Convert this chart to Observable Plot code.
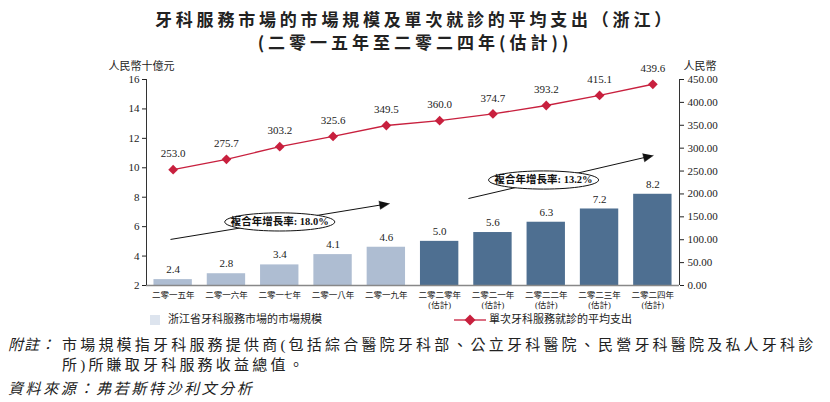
<!DOCTYPE html>
<html>
<head>
<meta charset="utf-8">
<script src="https://cdn.jsdelivr.net/npm/d3@7"></script>
<script src="https://cdn.jsdelivr.net/npm/@observablehq/plot@0.6"></script>
<style>
html, body { margin: 0; padding: 0; background: #fff; }
#wrap { position: relative; width: 830px; height: 402px; overflow: hidden; font-family: "Liberation Serif", "Noto Sans CJK TC", serif; color: #222; }
.title { position: absolute; left: 0; width: 830px; text-align: center; font-family: "Noto Sans CJK TC", sans-serif; font-size: 17px; font-weight: bold; letter-spacing: 3.8px; white-space: nowrap; line-height: 1; }
#chart { position: absolute; left: 0; top: 48px; }
.leg { position: absolute; font-family: "Liberation Serif", "Noto Sans CJK TC", serif; font-size: 11px; line-height: 1; white-space: nowrap; color: #222; }
.note { position: absolute; font-family: "Liberation Serif", "Noto Sans CJK TC", serif; font-size: 15px; line-height: 1; white-space: nowrap; color: #222; }
</style>
</head>
<body>
<div id="wrap">
  <div class="title" style="top:10px">牙科服務市場的市場規模及單次就診的平均支出（浙江）</div>
  <div class="title" style="top:33px;letter-spacing:4px">(二零一五年至二零二四年(估計))</div>
  <div id="chart"></div>
  <div class="leg" style="left:150px;top:315px;width:10px;height:10px;background:#dde4ee"></div>
  <div class="leg" id="leg1" style="left:168px;top:314px"></div>
  <svg class="leg" style="left:454px;top:314px" width="32" height="12">
    <line x1="0" y1="6" x2="32" y2="6" stroke="#c8203e" stroke-width="1.3"></line>
    <path d="M16,0.5L21.5,6L16,11.5L10.5,6Z" fill="#c8203e"></path>
  </svg>
  <div class="leg" id="leg2" style="left:489px;top:314px"></div>
  <div class="note" style="left:8px;top:338px;font-style:italic;letter-spacing:1px">附註：</div>
  <div class="note" id="note1" style="left:62px;top:338px;letter-spacing:3.2px"></div>
  <div class="note" id="note2" style="left:62px;top:358px;letter-spacing:3.2px"></div>
  <div class="note" id="source" style="left:8px;top:382px;font-style:italic;letter-spacing:2.6px"></div>
</div>
<script>
// ---- data ----
const years = ["二零一五年", "二零一六年", "二零一七年", "二零一八年", "二零一九年",
               "二零二零年", "二零二一年", "二零二二年", "二零二三年", "二零二四年"];
const estimated = [false, false, false, false, false, true, true, true, true, true];
const marketSize = [2.4, 2.8, 3.4, 4.1, 4.6, 5.0, 5.6, 6.3, 7.2, 8.2];          // 人民幣十億元
const avgSpend = [253.0, 275.7, 303.2, 325.6, 349.5, 360.0, 374.7, 393.2, 415.1, 439.6]; // 人民幣
const leftTicks = [2, 4, 6, 8, 10, 12, 14, 16];
const rightTicks = [0, 50, 100, 150, 200, 250, 300, 350, 400, 450];
const estLabel = "(估計)";
const seriesNames = ["浙江省牙科服務市場的市場規模", "單次牙科服務就診的平均支出"];
const cagrLabels = ["複合年增長率: 18.0%", "複合年增長率: 13.2%"];
// annotation anchors in data units (x = year index, y = left axis)
const cagrArrowFrom = [[-0.05, 5.13], [5.54, 7.91]];
const cagrArrowTo = [[4.06, 7.57], [9.01, 10.84]];
const cagrBadgeAt = [[2.0, 6.32], [6.95, 9.17]];
const noteLines = ["市場規模指牙科服務提供商(包括綜合醫院牙科部、公立牙科醫院、民營牙科醫院及私人牙科診", "所)所賺取牙科服務收益總值。"];
const sourceText = "資料來源：弗若斯特沙利文分析";

document.getElementById("leg1").textContent = seriesNames[0];
document.getElementById("leg2").textContent = seriesNames[1];
document.getElementById("note1").textContent = noteLines[0];
document.getElementById("note2").textContent = noteLines[1];
document.getElementById("source").textContent = sourceText;

// ---- layout ----
const W = 830, H = 264, ML = 146, MR = 151, MT = 31, MB = 27;
const xDom = [-0.5, 9.5], yDom = [2, 16], rDom = [0, 450];
const toLeft = v => yDom[0] + (v - rDom[0]) / (rDom[1] - rDom[0]) * (yDom[1] - yDom[0]);
const fromLeft = v => rDom[0] + (v - yDom[0]) / (yDom[1] - yDom[0]) * (rDom[1] - rDom[0]);

const light = "#aebdd2", dark = "#4e6f91", red = "#c8203e", ink = "#222";

const rows = years.map((y, i) => ({i, year: y, est: estimated[i], size: marketSize[i], spend: avgSpend[i]}));

const notes = cagrLabels.map((label, k) => ({
  label,
  x1: cagrArrowFrom[k][0], y1: cagrArrowFrom[k][1],
  x2: cagrArrowTo[k][0], y2: cagrArrowTo[k][1],
  cx: cagrBadgeAt[k][0], cy: cagrBadgeAt[k][1]
}));

// arrowheads: filled triangles, built in pixel space then mapped back to data units
const kx = (W - ML - MR) / (xDom[1] - xDom[0]);
const ky = (H - MT - MB) / (yDom[1] - yDom[0]);
const headL = 10, headW = 4.2;
const heads = [];
const shafts = [];
notes.forEach((n, k) => {
  const px = (n.x2 - n.x1) * kx, py = -(n.y2 - n.y1) * ky;
  const len = Math.hypot(px, py), ux = px / len, uy = py / len;
  const pts = [[0, 0], [-headL * ux - headW * uy, -headL * uy + headW * ux], [-headL * ux + headW * uy, -headL * uy - headW * ux]];
  pts.forEach(([dx, dy]) => heads.push({k, x: n.x2 + dx / kx, y: n.y2 - dy / ky}));
  shafts.push({x1: n.x1, y1: n.y1, x2: n.x2 - (headL - 1) * ux / kx, y2: n.y2 + (headL - 1) * uy / ky});
});

const ellipse = {
  draw(ctx, size) {
    const rx = Math.sqrt(size / Math.PI), ry = rx * 0.165, c = 0.5523;
    ctx.moveTo(rx, 0);
    ctx.bezierCurveTo(rx, c * ry, c * rx, ry, 0, ry);
    ctx.bezierCurveTo(-c * rx, ry, -rx, c * ry, -rx, 0);
    ctx.bezierCurveTo(-rx, -c * ry, -c * rx, -ry, 0, -ry);
    ctx.bezierCurveTo(c * rx, -ry, rx, -c * ry, rx, 0);
    ctx.closePath();
  }
};

const chart = Plot.plot({
  width: W, height: H,
  marginLeft: ML, marginRight: MR, marginTop: MT, marginBottom: MB,
  style: {fontFamily: '"Liberation Serif", "Noto Sans CJK TC", serif', fontSize: "11px", color: ink, background: "transparent"},
  x: {type: "linear", domain: xDom, axis: null},
  y: {domain: yDom, axis: null},
  marks: [
    Plot.rect(rows.filter(d => !d.est), {x1: d => d.i - 0.36, x2: d => d.i + 0.36, y1: d => yDom[0], y2: "size", fill: light}),
    Plot.rect(rows.filter(d => d.est), {x1: d => d.i - 0.36, x2: d => d.i + 0.36, y1: d => yDom[0], y2: "size", fill: dark}),
    Plot.ruleY([yDom[0]], {stroke: "#888", strokeWidth: 1.5}),
    Plot.ruleX([xDom[0]], {stroke: "#333"}),
    Plot.ruleX([xDom[1]], {stroke: "#333"}),
    // CAGR arrows
    Plot.link(shafts, {x1: "x1", y1: "y1", x2: "x2", y2: "y2", stroke: "#111", strokeWidth: 1}),
    Plot.line(heads, {x: "x", y: "y", z: "k", fill: "#111", stroke: "#111", strokeWidth: 0.5}),
    Plot.dot(notes, {x: "cx", y: "cy", symbol: ellipse, r: 55, fill: "#fff", stroke: "#111", strokeWidth: 1}),
    Plot.text(notes, {x: "cx", y: "cy", text: "label", fontWeight: "bold", fontSize: 10.5, fill: "#111"}),
    // values
    Plot.text(rows, {x: "i", y: "size", text: d => d.size.toFixed(1), dy: -10, fill: ink}),
    Plot.line(rows, {x: "i", y: d => toLeft(d.spend), stroke: red, strokeWidth: 1.3}),
    Plot.dot(rows, {x: "i", y: d => toLeft(d.spend), symbol: "diamond2", r: 4.4, fill: red}),
    Plot.text(rows, {x: "i", y: d => toLeft(d.spend), text: d => d.spend.toFixed(1), dy: -16, fill: ink}),
    // axes
    Plot.axisX({ticks: rows.map(d => d.i), tickFormat: i => years[i] + (estimated[i] ? "\n" + estLabel : ""), tickSize: 0, tickPadding: 6, fontSize: 8.5, lineHeight: 1.15, label: null}),
    Plot.axisY({ticks: leftTicks, tickSize: 4, tickPadding: 3, label: null}),
    Plot.axisY({anchor: "right", ticks: rightTicks.map(toLeft), tickFormat: v => fromLeft(v).toFixed(2), tickSize: 4, tickPadding: 4, label: null}),
    // unit labels
    Plot.text(["人民幣十億元"], {frameAnchor: "top-left", text: d => d, dx: -38, dy: -17, textAnchor: "start", fill: ink}),
    Plot.text(["人民幣"], {frameAnchor: "top-right", text: d => d, dx: 4, dy: -17, textAnchor: "start", fill: ink})
  ]
});
document.getElementById("chart").appendChild(chart);
</script>
</body>
</html>
